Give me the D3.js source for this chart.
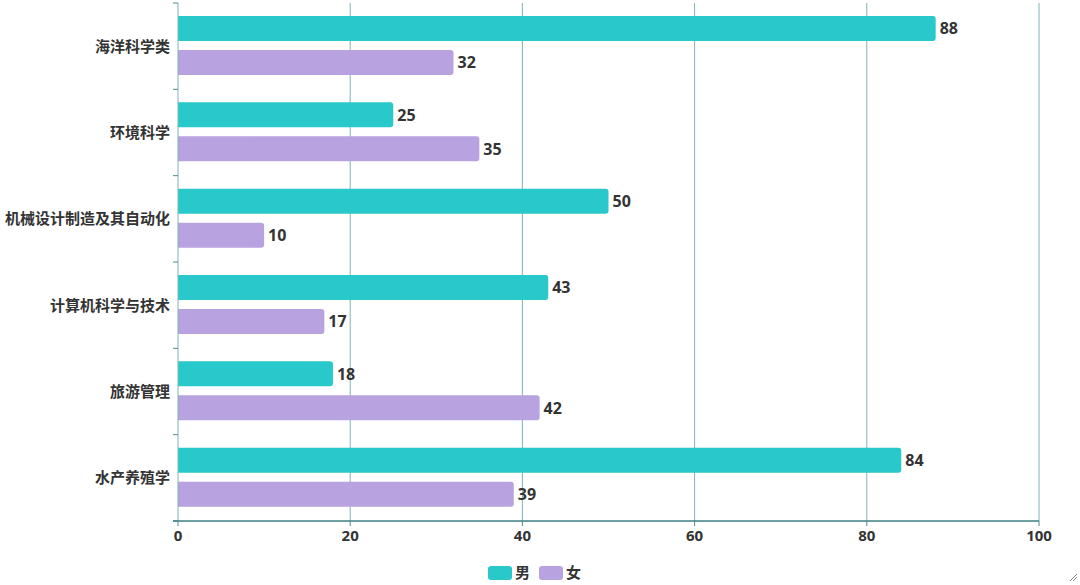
<!DOCTYPE html>
<html><head><meta charset="utf-8">
<script src="https://cdn.jsdelivr.net/npm/d3@7"></script>
<style>body{margin:0;background:#fff;}svg{display:block;font-family:"Noto Sans CJK SC","Noto Sans",sans-serif;}.num{font-family:"Open Sans","Noto Sans",sans-serif;}</style>
</head><body><svg id="c" width="1080" height="585"></svg>
<script>
const categories = ["海洋科学类","环境科学","机械设计制造及其自动化","计算机科学与技术","旅游管理","水产养殖学"];
const seriesNames = ["男","女"];
const maleValues = [88,25,50,43,18,84];
const femaleValues = [32,35,10,17,42,39];
const xTicks = [0,20,40,60,80,100];
const colors = ["#29C8CA","#B8A3E0"];

const svg = d3.select("#c");
const L=178,R=1039,T=3,B=521;
const x = d3.scaleLinear().domain([0,100]).range([L,R]);
const y = d3.scaleBand().domain(categories).range([T,B]);
const inner = d3.scaleBand().domain(seriesNames).range([13, 72]).paddingInner(0.265);

// grid
svg.append("g").selectAll("line").data(xTicks.slice(1)).join("line")
  .attr("x1",d=>x(d)).attr("x2",d=>x(d)).attr("y1",T).attr("y2",B)
  .attr("stroke","#7fb2b8").attr("stroke-width",1);

const series = [maleValues,femaleValues];
const rr=3;
function barPath(x0,y0,w,h){
  const r=Math.min(rr,w/2,h/2);
  return `M${x0},${y0}H${x0+w-r}Q${x0+w},${y0} ${x0+w},${y0+r}V${y0+h-r}Q${x0+w},${y0+h} ${x0+w-r},${y0+h}H${x0}Z`;
}
series.forEach((vals,si)=>{
  const g = svg.append("g");
  g.selectAll("path").data(categories).join("path")
    .attr("d",(c,i)=>barPath(x(0),y(c)+inner(seriesNames[si]),x(vals[i])-x(0),inner.bandwidth()))
    .attr("fill",colors[si]);
  g.selectAll("text").data(categories).join("text").attr("class","num")
    .attr("x",(c,i)=>x(vals[i])+4)
    .attr("y",(c,i)=>y(c)+inner(seriesNames[si])+inner.bandwidth()/2)
    .attr("dy","0.36em").attr("font-size",16).attr("font-weight","bold").attr("fill","#333")
    .text((c,i)=>vals[i]);
});

// y axis
const yAxis = svg.append("g");
yAxis.append("line").attr("x1",L).attr("x2",L).attr("y1",T).attr("y2",B).attr("stroke","#7fb2b8");
const bounds = categories.map(c=>y(c)).concat([B]);
yAxis.selectAll("line.t").data(bounds).join("line").attr("class","t")
  .attr("x1",L-5).attr("x2",L).attr("y1",d=>d).attr("y2",d=>d).attr("stroke","#4a8a90");
yAxis.selectAll("text").data(categories).join("text")
  .attr("x",L-8).attr("y",c=>y(c)+y.bandwidth()/2).attr("dy","0.36em")
  .attr("text-anchor","end").attr("font-size",15).attr("font-weight","bold").attr("fill","#333")
  .text(c=>c);

// x axis
const xAxis = svg.append("g");
xAxis.append("line").attr("x1",L-5).attr("x2",R).attr("y1",B).attr("y2",B).attr("stroke","#3f7f85").attr("stroke-width",1.5);
xAxis.selectAll("line.t").data(xTicks).join("line").attr("class","t")
  .attr("x1",d=>x(d)).attr("x2",d=>x(d)).attr("y1",B).attr("y2",B+5).attr("stroke","#4a8a90");
xAxis.selectAll("text").data(xTicks).join("text").attr("class","num")
  .attr("x",d=>x(d)).attr("y",B+15).attr("dy","0.36em").attr("text-anchor","middle")
  .attr("font-size",15).attr("font-weight","bold").attr("fill","#333").text(d=>d);

// legend
const lg = svg.append("g");
const lx=[488,539];
seriesNames.forEach((s,i)=>{
  lg.append("rect").attr("x",lx[i]).attr("y",566).attr("width",24).attr("height",14).attr("rx",3).attr("fill",colors[i]);
  lg.append("text").attr("x",lx[i]+27).attr("y",573).attr("dy","0.36em").attr("font-size",15).attr("font-weight","bold").attr("fill","#333").text(s);
});
// resize handle
const h = svg.append("g").attr("stroke","#888").attr("stroke-width",1);
h.append("line").attr("x1",1070).attr("y1",581).attr("x2",1077).attr("y2",574);
h.append("line").attr("x1",1073).attr("y1",581).attr("x2",1077).attr("y2",577);
</script></body></html>
